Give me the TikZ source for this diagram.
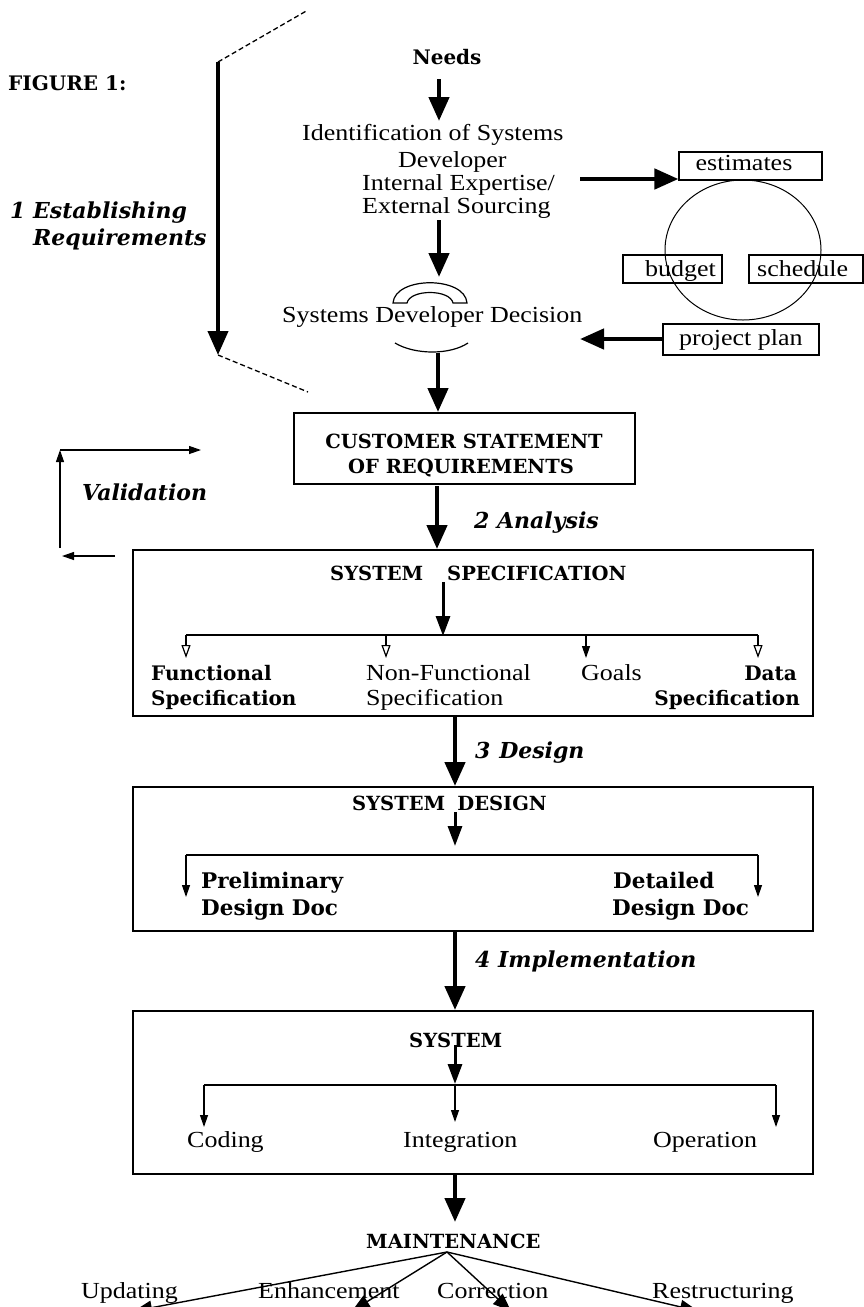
\documentclass[tikz,border=0pt]{standalone}
\usepackage{fontspec}
\setmainfont{Liberation Serif}[FakeStretch=1.13]
\newfontfamily\bk{DejaVu Serif}
\usetikzlibrary{arrows.meta}
\newcommand\fsz[1]{\fontsize{#1}{#1}\selectfont}
\begin{document}
\begin{tikzpicture}[x=1pt,y=-1pt,
  txt/.style={inner sep=0pt, font=\fsz{23}},
  bld/.style={inner sep=0pt, font=\bk\fsz{20}\bfseries},
  bit/.style={inner sep=0pt, font=\bk\fsz{22}\bfseries\itshape},
  hd/.style={inner sep=0pt, font=\bk\fsz{19.5}\bfseries},
  bigbox/.style={draw, line width=2.2pt, inner sep=0pt, anchor=north west},
  smallbox/.style={draw, line width=1.1pt, inner sep=0pt},
  bigarrow/.style={line width=4.5pt, -{Triangle[width=20pt,length=24pt]}},
  medarrow/.style={line width=3pt, -{Triangle[width=14pt,length=20pt]}},
  thinarrow/.style={line width=1.2pt, -{Triangle[width=8pt,length=12pt]}},
  openarrow/.style={line width=1.2pt, -{Triangle[open,width=9pt,length=13pt]}},
  fanarrow/.style={line width=1.4pt, -{Triangle[width=14pt,length=18pt]}},
  dashline/.style={dash pattern=on 5pt off 3pt, line width=1.3pt}]
\useasboundingbox (0,0) rectangle (864,1307);
\clip (0,0) rectangle (864,1307);

% ---- left side
\node[bld, anchor=base west] (fig) at (8,90) {FIGURE 1:};
\node[bit, anchor=base west] (est1) at (10,218) {1 Establishing};
\node[bit, anchor=base west] (est2) at (33,245) {Requirements};
\coordinate (la1) at (218,62);
\coordinate (la2) at (218,355);
\coordinate (dt) at (308,10);
\coordinate (db) at (308,392);
\draw[bigarrow, line width=4pt] (la1) -- (la2);
\draw[dashline] (la1) -- (dt);
\draw[dashline] (la2) -- (db);

% ---- top flow
\node[bld, anchor=base] (needs) at (447,64) {Needs};
\node[txt, anchor=base west] (id1) at (302,140) {Identification of Systems};
\node[txt, anchor=base west] (id2) at (398,167) {Developer};
\node[txt, anchor=base west] (id3) at (362,190) {Internal Expertise/};
\node[txt, anchor=base west] (id4) at (362,213) {External Sourcing};
\node[txt, anchor=base west] (dec) at (282,322) {Systems Developer Decision};

\coordinate (n1) at (439,79);  \coordinate (n2) at (439,121);
\coordinate (i1) at (439,220); \coordinate (i2) at (439,277);
\coordinate (d1) at (438,353);
\draw[bigarrow] (n1) -- (n2);
\draw[bigarrow] (i1) -- (i2);

% handset and arc
\draw[line width=1.2pt] (393,303) .. controls (395,276) and (465,276) .. (467,303)
  -- (453,303) .. controls (450,289) and (410,289) .. (407,303) -- cycle;
\draw[line width=1.2pt] (395,343) .. controls (415,355) and (450,355) .. (468,343);

% ---- circle of estimates
\draw[line width=1pt] (743,250) ellipse [x radius=78pt, y radius=70pt];
\node[smallbox, minimum width=143pt, minimum height=28pt] (estb) at (750.5,166) {};
\node[txt, anchor=base] (estt) at (744,170) {estimates};
\node[smallbox, minimum width=99pt, minimum height=28pt] (budb) at (672.5,269) {};
\node[txt, anchor=base west] (budt) at (645,276) {budget};
\node[smallbox, minimum width=114pt, minimum height=28pt] (schb) at (806,269) {};
\node[txt, anchor=base west] (scht) at (757,276) {schedule};
\node[smallbox, minimum width=156pt, minimum height=31pt] (ppb) at (741,339.5) {};
\node[txt, anchor=base west] (ppt) at (679,345) {project plan};

\coordinate (e1) at (580,179);
\draw[bigarrow] (e1) -- (estb.west |- e1);
\coordinate (p2) at (580,339);
\draw[bigarrow] (ppb.west |- p2) -- (p2);

% ---- customer statement
\node[bigbox, minimum width=341pt, minimum height=71pt] (cust) at (293,412) {};
\node[hd, anchor=base] (c1) at (464,448) {CUSTOMER STATEMENT};
\node[hd, anchor=base] (c2) at (461,473) {OF REQUIREMENTS};
\draw[bigarrow] (d1) -- (d1 |- cust.north);

% validation
\node[bit, anchor=base west] (val) at (82,500) {Validation};
\coordinate (v1) at (60,548); \coordinate (v2) at (60,450); \coordinate (v3) at (201,450);
\coordinate (v4) at (115,556); \coordinate (v5) at (62,556);
\draw[thinarrow] (v1) -- (v2);
\draw[thinarrow] (v2) -- (v3);
\draw[thinarrow] (v4) -- (v5);

% ---- system specification
\node[bigbox, minimum width=680pt, minimum height=166pt] (spec) at (132,549) {};
\coordinate (a2) at (437,486);
\draw[bigarrow] (a2) -- (a2 |- spec.north);
\node[bit, anchor=base west] (an) at (474,528) {2 Analysis};
\node[hd, anchor=base west] (spect1) at (330,580) {SYSTEM};
\node[hd, anchor=base west] (spect2) at (447,580) {SPECIFICATION};
\coordinate (s1) at (443,582); \coordinate (s2) at (443,636);
\draw[medarrow] (s1) -- (s2);
\coordinate (sl) at (186,635); \coordinate (sr) at (758,635);
\coordinate (sm1) at (386,635); \coordinate (sm2) at (586,635);
\draw[line width=1.2pt] (sl) -- (sr);
\draw[openarrow] (sl) -- ++(0,23);
\draw[openarrow] (sm1) -- ++(0,23);
\draw[thinarrow] (sm2) -- ++(0,23);
\draw[openarrow] (sr) -- ++(0,23);
\node[bld, anchor=base west] (f1) at (151,680) {Functional};
\node[bld, anchor=base west] (f2) at (151,705) {Specification};
\node[txt, anchor=base west] (nf1) at (366,680) {Non-Functional};
\node[txt, anchor=base west] (nf2) at (366,705) {Specification};
\node[txt, anchor=base west] (go) at (581,680) {Goals};
\node[bld, anchor=base east] (da1) at (797,680) {Data};
\node[bld, anchor=base east] (da2) at (800,705) {Specification};

% ---- system design
\node[bigbox, minimum width=680pt, minimum height=144pt] (des) at (132,786) {};
\coordinate (a3) at (455,715);
\draw[bigarrow] (a3) -- (a3 |- des.north);
\node[bit, anchor=base west] (dn) at (475,758) {3\hspace{0.4em}Design};
\node[hd, anchor=base west] (dest1) at (352,810) {SYSTEM};
\node[hd, anchor=base east] (dest2) at (547,810) {DESIGN};
\coordinate (t1) at (455,812); \coordinate (t2) at (455,846);
\draw[medarrow] (t1) -- (t2);
\coordinate (dl) at (186,855); \coordinate (dr) at (758,855);
\draw[line width=1.2pt] (dl) -- (dr);
\draw[thinarrow] (dl) -- ++(0,42);
\draw[thinarrow] (dr) -- ++(0,42);
\node[bld, anchor=base west, font=\bk\fsz{21.5}\bfseries] (pr1) at (201,888) {Preliminary};
\node[bld, anchor=base west, font=\bk\fsz{21.5}\bfseries] (pr2) at (201,915) {Design Doc};
\node[bld, anchor=base west, font=\bk\fsz{21.5}\bfseries] (dt1) at (613,888) {Detailed};
\node[bld, anchor=base west, font=\bk\fsz{21.5}\bfseries] (dt2) at (612,915) {Design Doc};

% ---- system
\node[bigbox, minimum width=680pt, minimum height=163pt] (sys) at (132,1010) {};
\draw[bigarrow] (des.south -| a3) -- (a3 |- sys.north);
\node[bit, anchor=base west] (im) at (475,967) {4 Implementation};
\node[hd, anchor=base west] (syst) at (409,1047) {SYSTEM};
\coordinate (u1) at (455,1045); \coordinate (u2) at (455,1084);
\draw[medarrow] (u1) -- (u2);
\coordinate (yl) at (204,1085); \coordinate (ym) at (455,1085); \coordinate (yr) at (776,1085);
\draw[line width=1.2pt] (yl) -- (yr);
\draw[thinarrow] (yl) -- ++(0,42);
\draw[thinarrow] (ym) -- ++(0,37);
\draw[thinarrow] (yr) -- ++(0,42);
\node[txt, anchor=base west] (co) at (187,1147) {Coding};
\node[txt, anchor=base west] (in) at (403,1147) {Integration};
\node[txt, anchor=base west] (op) at (653,1147) {Operation};

% ---- maintenance
\node[hd, anchor=base west] (mt) at (366,1248) {MAINTENANCE};
\coordinate (m0) at (455,1173);
\coordinate (m1) at (455,1222);
\draw[bigarrow] (m0) -- (m1);
\coordinate (fo) at (447,1252);
\draw[fanarrow] (fo) -- (134,1311);
\draw[fanarrow] (fo) -- (352,1311);
\draw[fanarrow] (fo) -- (511,1311);
\draw[fanarrow] (fo) -- (698,1311);
\node[txt, anchor=base west] (up) at (81,1298) {Updating};
\node[txt, anchor=base west] (en) at (258,1298) {Enhancement};
\node[txt, anchor=base west] (cr) at (437,1298) {Correction};
\node[txt, anchor=base west] (rs) at (652,1298) {Restructuring};
\end{tikzpicture}
\end{document}
